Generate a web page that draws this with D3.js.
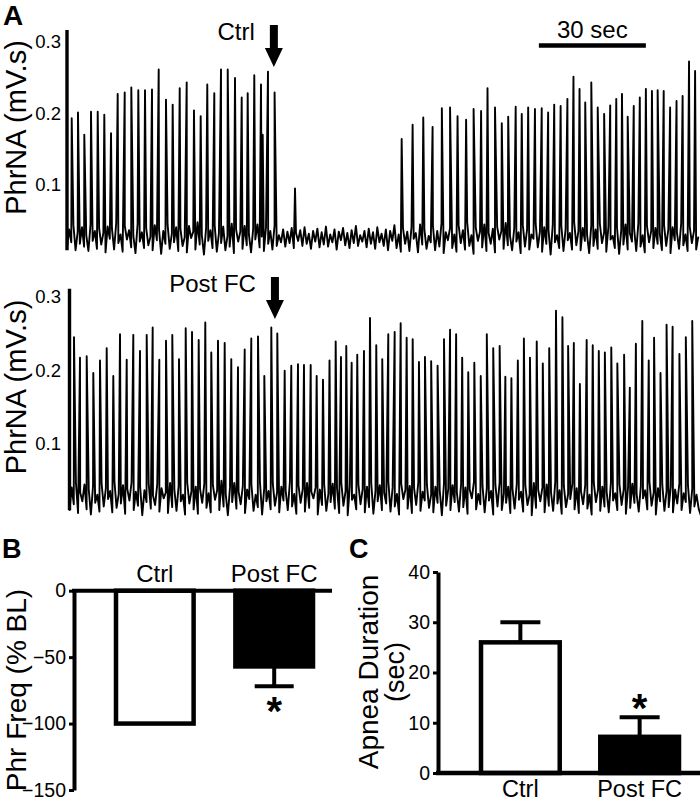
<!DOCTYPE html>
<html>
<head>
<meta charset="utf-8">
<script src="https://cdn.jsdelivr.net/npm/d3@7"></script>
<style>
body { margin: 0; background: #fff; }
text { font-family: "Liberation Sans", Arial, sans-serif; fill: #000; }
</style>
</head>
<body>
<div class="chart"></div>
<script>
// ---------- data ----------
// PhrNA traces: burst times (s) and burst heights (x0.001 mV.s)
const ctrlSpikeT = [1.32, 3.08, 4.85, 6.73, 8.61, 10.46, 12.34, 14.21, 16.18, 18.03, 19.99, 21.87, 23.83, 25.71, 27.75,
  29.63, 31.6, 33.56, 35.6, 37.48, 39.33, 41.3, 43.18, 45.06, 47.1, 48.98, 50.66, 52.51, 54.39, 54.87, 56.35, 58.2, 63.93,
  93.83, 96.9, 99.89, 102.5, 105.1, 107.4, 109.5, 111.9, 114.0, 116.1, 117.9, 120.0, 121.9, 123.7, 125.8, 127.5, 129.3,
  131.2, 133.1, 134.9, 136.6, 138.4, 140.3, 142.0, 143.7, 145.3, 147.0, 148.8, 150.6, 152.3, 154.0, 155.6, 157.2, 158.9,
  160.6, 162.3, 164.0, 165.6, 167.3, 169.1, 170.9, 172.6, 174.4, 176.1]
const ctrlSpikeV = [193, 201, 170, 202, 202, 198, 172, 227, 229, 236, 232, 232, 233, 261, 219,
  212, 235, 243, 204, 196, 240, 228, 261, 261, 249, 222, 228, 253, 240, 170, 258, 229, 95,
  164, 184, 194, 181, 207, 208, 196, 191, 206, 203, 235, 208, 186, 195, 209, 199, 208,
  206, 207, 201, 212, 210, 220, 251, 234, 215, 243, 208, 199, 211, 220, 227, 195, 210,
  222, 234, 231, 232, 231, 208, 217, 224, 272, 259]
// baseline activity, one value every 0.6 s (x0.001 mV.s)
const ctrlNoise = [12, 38, 20, 44, 9, 35, 18, 41, 14, 30, 8, 45, 22, 36, 11, 40, 17, 33, 6, 42,
  25, 39, 10, 47, 19, 31, 7, 43, 24, 37, 13, 29, 5, 46, 21, 34, 12, 40, 16, 28,
  9, 44, 23, 38, 4, 36, 18, 45, 11, 32, 20, 41, 8, 39, 15, 27, 6, 43, 26, 35,
  10, 48, 17, 30, 3, 40, 22, 37, 12, 44, 7, 33, 19, 42, 9, 29, 14, 46, 5, 38,
  21, 35, 11, 43, 16, 31, 6, 39, 24, 45, 13, 28, 8, 41, 18, 36, 10, 44, 15, 30,
  20, 38, 14, 35, 19, 40, 12, 33, 22, 37, 15, 41, 18, 32, 11, 36, 21, 39, 13, 34,
  17, 42, 14, 31, 20, 38, 10, 35, 23, 40, 16, 33, 12, 37, 19, 43, 15, 30, 21, 36,
  13, 39, 18, 34, 11, 41, 20, 32, 15, 38, 9, 36, 22, 44, 12, 31, 7, 40, 18, 35,
  8, 42, 25, 33, 6, 45, 17, 38, 11, 29, 20, 43, 9, 36, 14, 47, 5, 34, 23, 40,
  12, 31, 7, 44, 19, 37, 10, 48, 15, 30, 4, 41, 22, 35, 13, 45, 8, 33, 18, 39,
  6, 42, 24, 36, 11, 47, 16, 29, 9, 40, 21, 34, 5, 44, 14, 38, 10, 31, 25, 46,
  13, 35, 7, 41, 18, 37, 3, 45, 20, 30, 12, 43, 8, 39, 23, 33, 10, 48, 16, 36,
  9, 40, 22, 31, 5, 44, 15, 38, 11, 46, 19, 34, 7, 42, 24, 29, 12, 41, 4, 37,
  17, 45, 10, 33, 21, 39, 8, 47, 14, 30, 6, 43, 20, 36, 12, 40, 18, 32, 9, 44,
  15, 38, 5, 41, 23, 34, 11, 46, 16, 31, 8, 42, 19, 36, 10, 28]

const postSpikeT = [1.26, 2.94, 4.82, 6.67, 8.55, 10.43, 12.28, 14.16, 16.04, 17.89, 19.77, 21.64, 23.32, 25.18, 27.06,
  28.82, 30.7, 32.58, 34.35, 36.22, 38.07, 39.75, 41.63, 43.51, 45.36, 47.24, 49.12, 50.97, 52.85, 54.62,
  56.58, 58.26, 60.33, 62.18, 64.06, 65.74, 67.62, 69.3, 71.07, 72.9, 74.63, 76.12, 77.6,
  79.11, 80.68, 82.56, 84.25, 86.01, 87.69, 89.38, 91.17, 92.85, 94.53, 96.22, 97.98, 99.66, 101.4, 103.2,
  105.0, 106.7, 108.4, 110.1, 111.8, 113.5, 115.3, 117.0, 118.8, 120.6, 122.2, 123.9, 125.7, 127.4, 129.1,
  131.0, 132.7, 134.5, 136.4, 138.2, 139.8, 141.4, 143.1, 145.0, 146.7, 148.4, 150.1, 151.9, 153.6, 155.5,
  157.1, 158.8, 160.6, 162.4, 163.9, 165.7, 167.4, 169.1, 171.0, 172.8, 174.6]
const postSpikeV = [245, 217, 219, 196, 213, 230, 192, 249, 214, 248, 226, 248, 258, 214, 240,
  248, 215, 257, 252, 241, 265, 224, 240, 237, 215, 204, 228, 243, 246, 192,
  258, 250, 199, 206, 208, 207, 207, 192, 187, 213, 239, 218, 233,
  210, 221, 226, 271, 234, 215, 249, 252, 264, 244, 242, 211, 218, 212, 206,
  242, 255, 249, 217, 197, 210, 192, 249, 230, 233, 191, 189, 213, 243, 217,
  239, 209, 230, 281, 272, 233, 237, 181, 241, 234, 226, 224, 231, 209, 221,
  176, 236, 267, 213, 244, 196, 262, 259, 222, 245, 267]
const postNoise = [8, 40, 17, 46, 5, 33, 21, 44, 10, 37, 3, 42, 19, 30, 7, 45, 14, 39, 24, 35,
  6, 48, 12, 31, 18, 43, 4, 38, 22, 47, 9, 34, 15, 41, 2, 36, 20, 45, 11, 29,
  16, 44, 7, 39, 25, 33, 5, 46, 13, 37, 8, 42, 21, 30, 3, 47, 18, 35, 10, 41,
  4, 38, 19, 45, 12, 32, 6, 43, 23, 36, 9, 49, 14, 31, 2, 40, 20, 46, 11, 34,
  17, 42, 5, 37, 24, 44, 8, 30, 13, 47, 3, 39, 21, 35, 10, 45, 15, 33, 6, 41,
  22, 36, 9, 48, 14, 31, 4, 43, 19, 38, 7, 46, 12, 34, 25, 40, 3, 37, 16, 44,
  8, 32, 20, 45, 11, 39, 5, 47, 15, 35, 2, 42, 23, 30, 10, 44, 17, 38, 6, 41,
  13, 46, 4, 36, 21, 43, 9, 33, 18, 48, 7, 40, 14, 31, 3, 45, 24, 37, 11, 42,
  5, 39, 16, 47, 8, 34, 22, 44, 12, 30, 6, 41, 19, 36, 2, 46, 15, 38, 9, 43,
  20, 33, 7, 45, 13, 40, 4, 37, 25, 48, 10, 31, 17, 42, 6, 39, 22, 35, 3, 44,
  14, 47, 9, 32, 19, 41, 5, 38, 11, 45, 23, 34, 7, 43, 16, 30, 2, 46, 12, 37,
  21, 40, 6, 44, 15, 33, 8, 48, 18, 36, 4, 42, 13, 31, 24, 45, 10, 39, 5, 35,
  17, 43, 11, 30, 3, 46, 20, 37, 8, 41, 14, 34, 6, 47, 22, 32, 9, 44, 16, 38,
  4, 40, 12, 45, 19, 31, 7, 42, 25, 36, 10, 48, 15, 33, 3, 39, 21, 44, 8, 35,
  13, 41, 6, 37, 18, 46, 9, 32, 20, 43, 5, 38, 14, 30, 11, 2]
const sampleStep = 0.6
const traceTicks = [0.1, 0.2, 0.3]
const ctrlArrowT = 58.0
const postArrowT = 57.6
const scaleBarStart = 132.3
const scaleBarLen = 30

// bar charts
const barCats = ["Ctrl", "Post FC"]
const freqMean = [-100, -57]
const freqErr = [0, 15]
const freqTicks = [0, -50, -100, -150]
const apneaMean = [26, 7.2]
const apneaErr = [4, 3.9]
const apneaTicks = [0, 10, 20, 30, 40]

// ---------- drawing ----------
const svg = d3.select(".chart").append("svg")
  .attr("width", 700)
  .attr("height", 802)

const pxPerSec = 107 / 30

function drawTrace(spT, spV, noise, x0, yRange, yMax, tag, arrowT, arrowTop, labelY) {
  const x = d3.scaleLinear().domain([0, 177]).range([x0, x0 + 177 * pxPerSec])
  const y = d3.scaleLinear().domain([0, yMax]).range(yRange)

  let pts = noise.map((v, i) => ({t: i * sampleStep, v: v}))
  spT.forEach((t, i) => pts.push({t: t, v: spV[i]}))
  pts.sort((a, b) => a.t - b.t)

  // axis line
  svg.append("line")
    .attr("x1", x(0)).attr("x2", x(0))
    .attr("y1", y(yMax)).attr("y2", y(9))
    .attr("stroke", "#000").attr("stroke-width", 3.4)

  svg.append("path")
    .datum(pts)
    .attr("fill", "none")
    .attr("stroke", "#000")
    .attr("stroke-width", 1.9)
    .attr("stroke-linejoin", "round")
    .attr("d", d3.line().x(d => x(d.t)).y(d => y(d.v)))

  svg.append("g").selectAll("text")
    .data(traceTicks)
    .enter()
    .append("text")
    .attr("x", 61)
    .attr("y", d => y(d * 1000))
    .attr("dy", "0.35em")
    .attr("text-anchor", "end")
    .attr("font-size", 18.5)
    .text(d => d.toFixed(1))

  svg.append("text")
    .attr("transform", `translate(26,${labelY}) rotate(-90)`)
    .attr("text-anchor", "middle")
    .attr("font-size", 29)
    .text("PhrNA (mV.s)")

  // arrow
  const cx = x(arrowT)
  svg.append("path")
    .attr("d", `M${cx - 4},${arrowTop} H${cx + 4} V${arrowTop + 23} H${cx + 9} L${cx},${arrowTop + 42} L${cx - 9},${arrowTop + 23} H${cx - 4} Z`)
    .attr("fill", "#000")
  svg.append("text")
    .attr("x", cx - 19)
    .attr("y", arrowTop + 15)
    .attr("text-anchor", "end")
    .attr("font-size", 24)
    .text(tag)
  return x
}

const xTop = drawTrace(ctrlSpikeT, ctrlSpikeV, ctrlNoise, 67, [256.7, 30], 316, "Ctrl", ctrlArrowT, 25, 127.5)
drawTrace(postSpikeT, postSpikeV, postNoise, 69.5, [516.7, 288.7], 311, "Post FC", postArrowT, 277, 387)

// scale bar
svg.append("line")
  .attr("x1", xTop(scaleBarStart)).attr("x2", xTop(scaleBarStart + scaleBarLen))
  .attr("y1", 45.5).attr("y2", 45.5)
  .attr("stroke", "#000").attr("stroke-width", 4.5)
svg.append("text")
  .attr("x", xTop(scaleBarStart + scaleBarLen / 2))
  .attr("y", 38)
  .attr("text-anchor", "middle")
  .attr("font-size", 24)
  .text(scaleBarLen + " sec")

// panel letters
svg.append("text").attr("x", 3).attr("y", 25).attr("font-size", 28).attr("font-weight", "bold").text("A")
svg.append("text").attr("x", 2).attr("y", 558).attr("font-size", 27).attr("font-weight", "bold").text("B")
svg.append("text").attr("x", 349).attr("y", 558).attr("font-size", 27).attr("font-weight", "bold").text("C")

// ---- panel B ----
const xB = d3.scaleBand().domain(barCats).range([116, 313]).paddingInner(0.35)
const yB = d3.scaleLinear().domain([0, -150]).range([590.7, 790])

svg.append("g").selectAll("rect")
  .data(barCats)
  .enter()
  .append("rect")
  .attr("x", d => xB(d))
  .attr("y", yB(0))
  .attr("width", xB.bandwidth())
  .attr("height", (d, i) => yB(freqMean[i]) - yB(0))
  .attr("fill", (d, i) => i == 0 ? "#fff" : "#000")
  .attr("stroke", "#000")
  .attr("stroke-width", 4.5)

barCats.forEach((c, i) => {
  if (freqErr[i] == 0) return
  const cx = xB(c) + xB.bandwidth() / 2
  const yEnd = yB(freqMean[i] - freqErr[i])
  svg.append("line").attr("x1", cx).attr("x2", cx).attr("y1", yB(freqMean[i])).attr("y2", yEnd)
    .attr("stroke", "#000").attr("stroke-width", 4)
  svg.append("line").attr("x1", cx - 19.5).attr("x2", cx + 19.5).attr("y1", yEnd).attr("y2", yEnd)
    .attr("stroke", "#000").attr("stroke-width", 4)
  svg.append("text").attr("x", cx).attr("y", yEnd + 39)
    .attr("text-anchor", "middle").attr("font-size", 40).attr("font-weight", "bold").text("*")
})

svg.append("line")
  .attr("x1", 72).attr("x2", 332)
  .attr("y1", yB(0)).attr("y2", yB(0))
  .attr("stroke", "#000").attr("stroke-width", 4)

const yAxisB = svg.append("g")
  .attr("transform", "translate(74,0)")
  .call(d3.axisLeft(yB).tickValues(freqTicks).tickSize(5).tickSizeOuter(0))
yAxisB.select(".domain").attr("stroke-width", 4)
yAxisB.selectAll(".tick line").attr("stroke-width", 3)
yAxisB.selectAll(".tick text").attr("font-size", 19.5).attr("font-family", "Liberation Sans, Arial, sans-serif").attr("fill", "#000")

svg.append("g").selectAll("text")
  .data(barCats)
  .enter()
  .append("text")
  .attr("x", d => xB(d) + xB.bandwidth() / 2)
  .attr("y", 582)
  .attr("text-anchor", "middle")
  .attr("font-size", 24)
  .text(d => d)

svg.append("text")
  .attr("transform", "translate(26,690) rotate(-90)")
  .attr("text-anchor", "middle")
  .attr("font-size", 28)
  .text("Phr Freq (% BL)")

// ---- panel C ----
const xC = d3.scaleBand().domain(barCats).range([481, 679]).paddingInner(0.34)
const yC = d3.scaleLinear().domain([0, 40]).range([773, 572])

svg.append("g").selectAll("rect")
  .data(barCats)
  .enter()
  .append("rect")
  .attr("x", d => xC(d))
  .attr("y", (d, i) => yC(apneaMean[i]))
  .attr("width", xC.bandwidth())
  .attr("height", (d, i) => yC(0) - yC(apneaMean[i]))
  .attr("fill", (d, i) => i == 0 ? "#fff" : "#000")
  .attr("stroke", "#000")
  .attr("stroke-width", 4.5)

barCats.forEach((c, i) => {
  const cx = xC(c) + xC.bandwidth() / 2
  const yEnd = yC(apneaMean[i] + apneaErr[i])
  svg.append("line").attr("x1", cx).attr("x2", cx).attr("y1", yC(apneaMean[i])).attr("y2", yEnd)
    .attr("stroke", "#000").attr("stroke-width", 4)
  svg.append("line").attr("x1", cx - 20).attr("x2", cx + 20).attr("y1", yEnd).attr("y2", yEnd)
    .attr("stroke", "#000").attr("stroke-width", 4)
})
{
  const cx = xC("Post FC") + xC.bandwidth() / 2
  svg.append("text").attr("x", cx).attr("y", yC(apneaMean[1] + apneaErr[1]) + 5)
    .attr("text-anchor", "middle").attr("font-size", 40).attr("font-weight", "bold").text("*")
}

svg.append("line")
  .attr("x1", 436).attr("x2", 700)
  .attr("y1", yC(0)).attr("y2", yC(0))
  .attr("stroke", "#000").attr("stroke-width", 4.5)

const yAxisC = svg.append("g")
  .attr("transform", "translate(438,0)")
  .call(d3.axisLeft(yC).tickValues(apneaTicks).tickSize(5).tickSizeOuter(0))
yAxisC.select(".domain").attr("stroke-width", 4)
yAxisC.selectAll(".tick line").attr("stroke-width", 3)
yAxisC.selectAll(".tick text").attr("font-size", 19.5).attr("font-family", "Liberation Sans, Arial, sans-serif").attr("fill", "#000")

svg.append("g").selectAll("text")
  .data(barCats)
  .enter()
  .append("text")
  .attr("x", d => xC(d) + xC.bandwidth() / 2)
  .attr("y", 797)
  .attr("text-anchor", "middle")
  .attr("font-size", 23.5)
  .text(d => d)

svg.append("text")
  .attr("transform", "translate(378,672) rotate(-90)")
  .attr("text-anchor", "middle")
  .attr("font-size", 28)
  .text("Apnea Duration")
svg.append("text")
  .attr("transform", "translate(404,672) rotate(-90)")
  .attr("text-anchor", "middle")
  .attr("font-size", 27)
  .text("(sec)")
</script>
</body>
</html>
